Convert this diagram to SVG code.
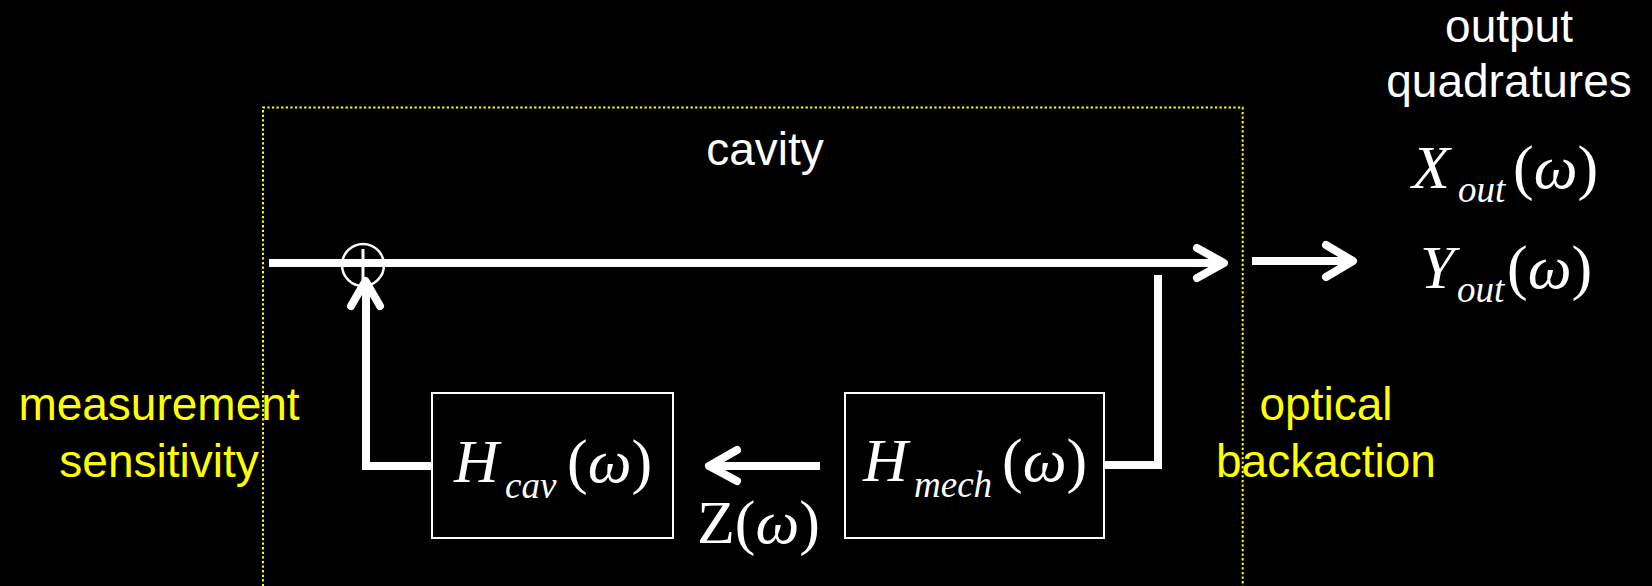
<svg xmlns="http://www.w3.org/2000/svg" width="1652" height="586" viewBox="0 0 1652 586">
<style>
.sans{font-family:"Liberation Sans",Arial,sans-serif;font-size:46px;text-anchor:middle}
.w{fill:#ffffff}
.y{fill:#ffff00}
.math{font-family:"Liberation Serif","Times New Roman",serif;font-size:62px;fill:#ffffff}
.it{font-style:italic}
.sub{font-family:"Liberation Serif","Times New Roman",serif;font-size:37px;font-style:italic;fill:#ffffff}
.box{fill:#000000;stroke:#ffffff;stroke-width:2}
.wire{fill:none;stroke:#ffffff;stroke-width:8;stroke-linejoin:miter}
.head{fill:none;stroke:#ffffff;stroke-width:8;stroke-linecap:round;stroke-linejoin:round}
</style>
<rect x="0" y="0" width="1652" height="586" fill="#000000"/>

<g id="cavity">
<path d="M263,600 V107.5 H1242.7 V600" fill="none" stroke="#ffff00" stroke-width="2" stroke-dasharray="2.3 2.3"/>
<text class="sans w" x="765" y="165">cavity</text>
</g>

<g id="connectors">
<line class="wire" x1="269" y1="263" x2="1222" y2="263"/>
<polyline class="head" points="1197,248 1224,263 1197,278"/>
<line class="wire" x1="1252" y1="261" x2="1351" y2="261"/>
<polyline class="head" points="1326,245 1353,261 1326,277"/>
<polyline class="wire" points="1104,465 1158,465 1158,275"/>
<line class="wire" x1="820" y1="466" x2="712" y2="466"/>
<polyline class="head" points="737,450 709,466 737,481"/>
<polyline class="wire" points="432,466 366,466 366,284"/>
<polyline class="head" points="351,306 365.5,281 380,306"/>
</g>

<g id="sum">
<circle cx="363" cy="265" r="21" fill="none" stroke="#ffffff" stroke-width="2.5"/>
<line x1="363" y1="249" x2="363" y2="280" stroke="#ffffff" stroke-width="3"/>
</g>

<g id="hcav">
<rect class="box" x="432" y="393" width="241" height="145"/>
<text class="math it" x="454" y="482">H</text>
<text class="sub" x="505" y="498">cav</text>
<text class="math" x="567" y="482">(<tspan class="it">ω</tspan>)</text>
</g>

<g id="hmech">
<rect class="box" x="845" y="393" width="259" height="145"/>
<text class="math it" x="863" y="481">H</text>
<text class="sub" x="914" y="497">mech</text>
<text class="math" x="1002" y="481">(<tspan class="it">ω</tspan>)</text>
</g>

<g id="zlabel">
<text class="math" x="697" y="543">Z(<tspan class="it">ω</tspan>)</text>
</g>

<g id="outputs">
<text class="sans w" x="1509" y="42">output</text>
<text class="sans w" x="1509" y="97">quadratures</text>
<text class="math it" x="1412" y="188">X</text>
<text class="sub" x="1458" y="202">out</text>
<text class="math" x="1513" y="188">(<tspan class="it">ω</tspan>)</text>
<text class="math it" x="1420" y="288">Y</text>
<text class="sub" x="1457" y="302">out</text>
<text class="math" x="1507" y="288">(<tspan class="it">ω</tspan>)</text>
</g>

<g id="measurement">
<text class="sans y" x="159" y="420">measurement</text>
<text class="sans y" x="159" y="477">sensitivity</text>
</g>

<g id="backaction">
<text class="sans y" x="1326" y="420">optical</text>
<text class="sans y" x="1326" y="477">backaction</text>
</g>
</svg>
